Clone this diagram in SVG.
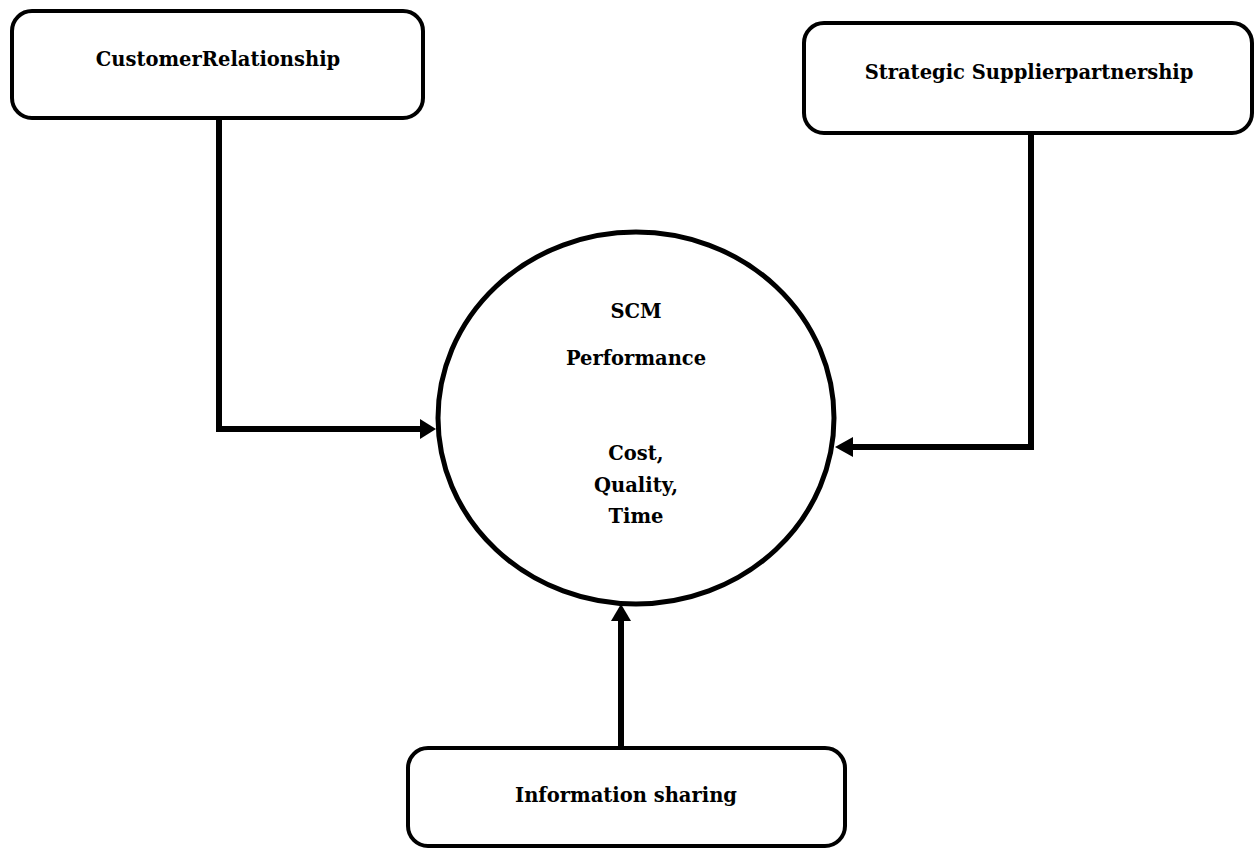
<svg xmlns="http://www.w3.org/2000/svg" width="1254" height="850" viewBox="0 0 1254 850">
<defs>
<style>
.box{fill:#fff;stroke:#000;stroke-width:4}
.lbl{font-family:"DejaVu Serif","Liberation Serif",serif;font-weight:bold;font-size:19.5px;fill:#000;text-anchor:middle}
.conn{fill:none;stroke:#000;stroke-width:6}
.head{fill:#000;stroke:none}
</style>
</defs>
<rect width="1254" height="850" fill="#fff"/>
<g id="connectors">
<polyline class="conn" points="219,118 219,429 422,429"/>
<polygon class="head" points="436,429 420,419 420,439"/>
<polyline class="conn" points="1031,133 1031,447 851,447"/>
<polygon class="head" points="835,447 853,437 853,457"/>
<line class="conn" x1="621" y1="748" x2="621" y2="618"/>
<polygon class="head" points="621,604 611,621 631,621"/>
</g>
<g id="customer">
<rect class="box" x="12" y="11" width="411" height="107" rx="20"/>
<text class="lbl" x="218" y="66">CustomerRelationship</text>
</g>
<g id="supplier">
<rect class="box" x="804" y="23" width="448" height="110" rx="20"/>
<text class="lbl" x="1029" y="79">Strategic Supplierpartnership</text>
</g>
<g id="scm">
<ellipse cx="636" cy="418" rx="198" ry="186" fill="#fff" stroke="#000" stroke-width="5"/>
<text class="lbl" x="636" y="318">SCM</text>
<text class="lbl" x="636" y="365">Performance</text>
<text class="lbl" x="636" y="460">Cost,</text>
<text class="lbl" x="636" y="492">Quality,</text>
<text class="lbl" x="636" y="523">Time</text>
</g>
<g id="info">
<rect class="box" x="408" y="748" width="437" height="98" rx="20"/>
<text class="lbl" x="626" y="802">Information sharing</text>
</g>
</svg>
